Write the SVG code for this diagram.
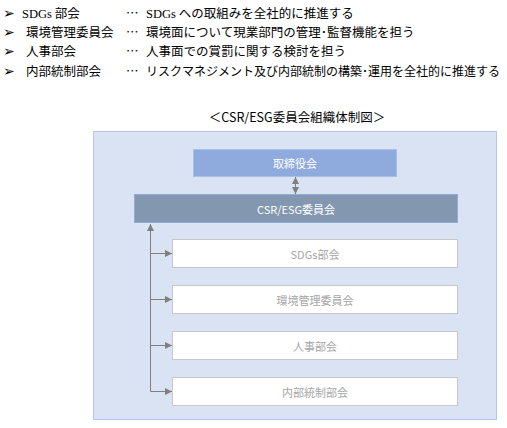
<svg xmlns="http://www.w3.org/2000/svg" width="507" height="428" viewBox="0 0 507 428">
<style>
.list{font-family:"Noto Sans CJK JP","Liberation Sans",sans-serif;font-size:12.5px;fill:#000}
.ser{font-family:"Liberation Serif","Noto Sans CJK JP",serif}
.arr{font-family:"DejaVu Sans",sans-serif;font-size:14px}
.t{font-family:"Noto Sans CJK JP","Liberation Sans",sans-serif;font-size:11px;text-anchor:middle;dominant-baseline:central}
.w{fill:#ffffff}
.g{fill:#a6a6a6}
.sub{fill:#ffffff;stroke:#c8c8c8;stroke-width:1}
.con{stroke:#7f7f7f;stroke-width:1;fill:none}
</style>
<defs>
<marker id="ah" viewBox="0 0 10 10" refX="10" refY="5" markerWidth="7" markerHeight="7" markerUnits="userSpaceOnUse" orient="auto-start-reverse">
<path d="M0,0 L10,5 L0,10 z" fill="#7f7f7f"/>
</marker>
</defs>
<g id="list">
<text class="list" y="18"><tspan class="arr" x="3">➢</tspan><tspan class="ser" x="22">SDGs</tspan><tspan> 部会</tspan><tspan x="126">…</tspan><tspan class="ser" x="146">SDGs</tspan><tspan> への取組みを全社的に推進する</tspan></text>
<text class="list" y="37"><tspan class="arr" x="3">➢</tspan><tspan x="26">環境管理委員会</tspan><tspan x="126">…</tspan><tspan x="146">環境面について現業部門の管理･監督機能を担う</tspan></text>
<text class="list" y="56"><tspan class="arr" x="3">➢</tspan><tspan x="26">人事部会</tspan><tspan x="126">…</tspan><tspan x="146">人事面での賞罰に関する検討を担う</tspan></text>
<text class="list" y="76"><tspan class="arr" x="3">➢</tspan><tspan x="26">内部統制部会</tspan><tspan x="126">…</tspan></text>
<text class="list" x="146" y="76" style="font-size:12px">リスクマネジメント及び内部統制の構築･運用を全社的に推進する</text>
</g>
<text id="title" x="297" y="116" style="font-family:'Noto Sans CJK JP','Liberation Sans',sans-serif;font-size:12.5px;text-anchor:middle;dominant-baseline:central;fill:#000">＜CSR/ESG委員会組織体制図＞</text>
<g id="container">
<rect x="93.5" y="131.5" width="403" height="288" fill="#dae3f3" stroke="#b4c7e7" stroke-width="1"/>
</g>
<g id="board">
<rect x="193.5" y="149.5" width="203" height="27" fill="#8faadc" stroke="#a9bfe6" stroke-width="1"/>
<text class="t w" x="295" y="163">取締役会</text>
</g>
<g id="csr">
<rect x="134.5" y="194.5" width="323" height="28" fill="#8497b0" stroke="#8faadc" stroke-width="1"/>
<text class="t w" x="296" y="208.5">CSR/ESG委員会</text>
</g>
<g id="sdgs">
<rect class="sub" x="172.5" y="239.5" width="285" height="28"/>
<text class="t g" x="315" y="253.5">SDGs部会</text>
</g>
<g id="env">
<rect class="sub" x="172.5" y="285.5" width="285" height="28"/>
<text class="t g" x="315" y="299.5">環境管理委員会</text>
</g>
<g id="hr">
<rect class="sub" x="172.5" y="331.5" width="285" height="28"/>
<text class="t g" x="315" y="345.5">人事部会</text>
</g>
<g id="ic">
<rect class="sub" x="172.5" y="377.5" width="285" height="28"/>
<text class="t g" x="315" y="391.5">内部統制部会</text>
</g>
<g id="connectors">
<line class="con" x1="295.5" y1="177" x2="295.5" y2="194" marker-start="url(#ah)" marker-end="url(#ah)"/>
<polyline class="con" points="150.5,224 150.5,391.5 172,391.5" marker-start="url(#ah)" marker-end="url(#ah)"/>
<line class="con" x1="150.5" y1="253.5" x2="172" y2="253.5" marker-end="url(#ah)"/>
<line class="con" x1="150.5" y1="299.5" x2="172" y2="299.5" marker-end="url(#ah)"/>
<line class="con" x1="150.5" y1="345.5" x2="172" y2="345.5" marker-end="url(#ah)"/>
</g>
</svg>
